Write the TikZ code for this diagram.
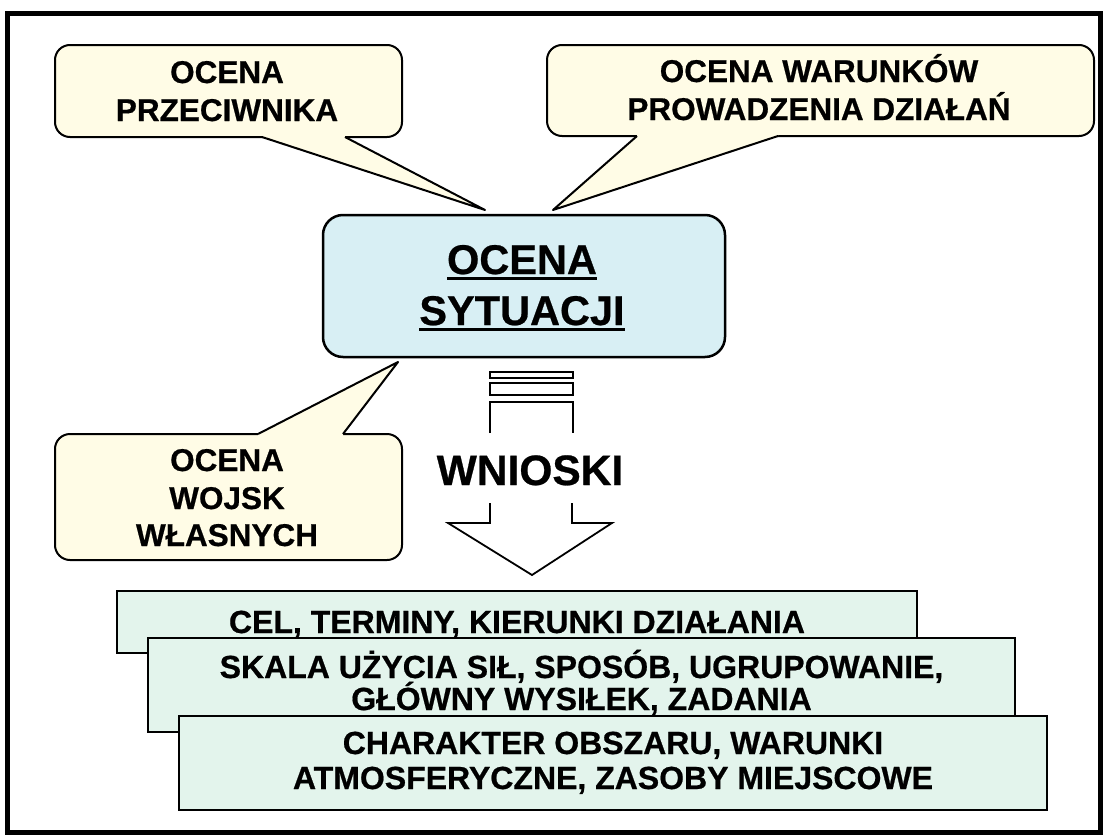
\documentclass[tikz,border=0pt]{standalone}
\usepackage{fontspec}
\setmainfont{Liberation Sans}[BoldFeatures={FakeBold=0.6}]
\usetikzlibrary{calc}

\definecolor{cream}{HTML}{FFFCE6}
\definecolor{sky}{HTML}{D8EFF4}
\definecolor{mint}{HTML}{E3F4EC}

% underline drawn as a rule a few points below the baseline
\newcommand\ulin[1]{\setbox0\hbox{#1}\rlap{\rule[-5.5pt]{\wd0}{3pt}}\box0}

\begin{document}
\begin{tikzpicture}[x=1pt,y=-1pt,
  bubble/.style={draw=black, line width=2pt, fill=cream, rounded corners=15pt, inner sep=0pt},
  bubbletext/.style={anchor=base, inner sep=0pt, font=\fontsize{31.5}{38}\selectfont\bfseries},
  mainbox/.style={draw=black, line width=2.5pt, fill=sky, rounded corners=20pt, inner sep=0pt},
  maintext/.style={anchor=base, inner sep=0pt, font=\fontsize{41.5}{50}\selectfont\bfseries},
  result/.style={draw=black, line width=2pt, fill=mint, inner sep=0pt},
  resulttext/.style={anchor=base, inner sep=0pt, font=\fontsize{32}{38}\selectfont\bfseries},
  pointer/.style={draw=black, line width=2pt, line join=round},
  bar/.style={draw=black, line width=1.8pt, fill=white},
]
\useasboundingbox (0,0) rectangle (1103,835);

% outer frame
\draw[line width=5pt] (7.5,13) rectangle (1100.5,832.5);

% ---- callout: enemy assessment
\node[bubble, minimum width=347pt, minimum height=92pt] (przec) at (228.5,91) {};
\coordinate (p1a) at (262,137);
\coordinate (p1b) at (345,137);
\coordinate (p1tip) at (485,210);
\fill[cream] (p1a) -- (p1tip) -- (p1b) -- ($(p1b)+(0,-3)$) -- ($(p1a)+(0,-3)$) -- cycle;
\draw[pointer] (p1a) -- (p1tip) -- (p1b);
\node[bubbletext] (przec1) at (227,83) {OCENA};
\node[bubbletext] (przec2) at (227,121) {PRZECIWNIKA};

% ---- callout: operating conditions
\node[bubble, minimum width=547pt, minimum height=91pt] (warunki) at (820.5,90.5) {};
\coordinate (p2a) at (637,136);
\coordinate (p2b) at (778,136);
\coordinate (p2tip) at (553,210);
\fill[cream] (p2a) -- (p2tip) -- (p2b) -- ($(p2b)+(0,-3)$) -- ($(p2a)+(0,-3)$) -- cycle;
\draw[pointer] (p2a) -- (p2tip) -- (p2b);
\node[bubbletext] (warunki1) at (819,82) {OCENA WARUNKÓW};
\node[bubbletext] (warunki2) at (819,120) {PROWADZENIA DZIAŁAŃ};

% ---- callout: own forces
\node[bubble, minimum width=347pt, minimum height=126pt] (wlasne) at (228.5,497) {};
\coordinate (p3a) at (258,434);
\coordinate (p3b) at (343,434);
\coordinate (p3tip) at (398,362);
\fill[cream] (p3a) -- (p3tip) -- (p3b) -- ($(p3b)+(0,3)$) -- ($(p3a)+(0,3)$) -- cycle;
\draw[pointer] (p3a) -- (p3tip) -- (p3b);
\node[bubbletext] (wlasne1) at (227,471) {OCENA};
\node[bubbletext] (wlasne2) at (227,509) {WOJSK};
\node[bubbletext] (wlasne3) at (227,546) {WŁASNYCH};

% ---- central box
\node[mainbox, minimum width=402pt, minimum height=142pt] (sytuacja) at (524,286) {};
\node[maintext] (sytuacja1) at (522,274) {\ulin{OCENA}};
\node[maintext] (sytuacja2) at (522,325) {\ulin{SYTUACJI}};

% ---- block arrow with conclusions
\draw[bar] (490,372) rectangle (573,378);
\draw[bar] (490,383) rectangle (573,395);
\draw[line width=1.8pt] (490,433) -- (490,402) -- (573,402) -- (573,433);
\node[anchor=base, inner sep=0pt, font=\fontsize{42.5}{50}\selectfont\bfseries] (wnioski) at (530,485) {WNIOSKI};
\coordinate (arrtip) at (532,575);
\draw[line width=1.8pt, line join=miter]
  (490,503) -- (490,523) -- (448,523) -- (arrtip) -- (612,523) -- (572,523) -- (572,503);

% ---- stacked result boxes
\node[result, minimum width=800pt, minimum height=62pt] (cel) at (517,622) {};
\node[resulttext] (cel1) at (517,633) {CEL, TERMINY, KIERUNKI DZIAŁANIA};

\node[result, minimum width=867pt, minimum height=94pt] (skala) at (581.5,685) {};
\node[resulttext] (skala1) at (581.5,678) {SKALA UŻYCIA SIŁ, SPOSÓB, UGRUPOWANIE,};
\node[resulttext] (skala2) at (581.5,710) {GŁÓWNY WYSIŁEK, ZADANIA};

\node[result, minimum width=868pt, minimum height=94pt] (obszar) at (613,763) {};
\node[resulttext] (obszar1) at (613,754) {CHARAKTER OBSZARU, WARUNKI};
\node[resulttext] (obszar2) at (613,789) {ATMOSFERYCZNE, ZASOBY MIEJSCOWE};
\end{tikzpicture}
\end{document}
